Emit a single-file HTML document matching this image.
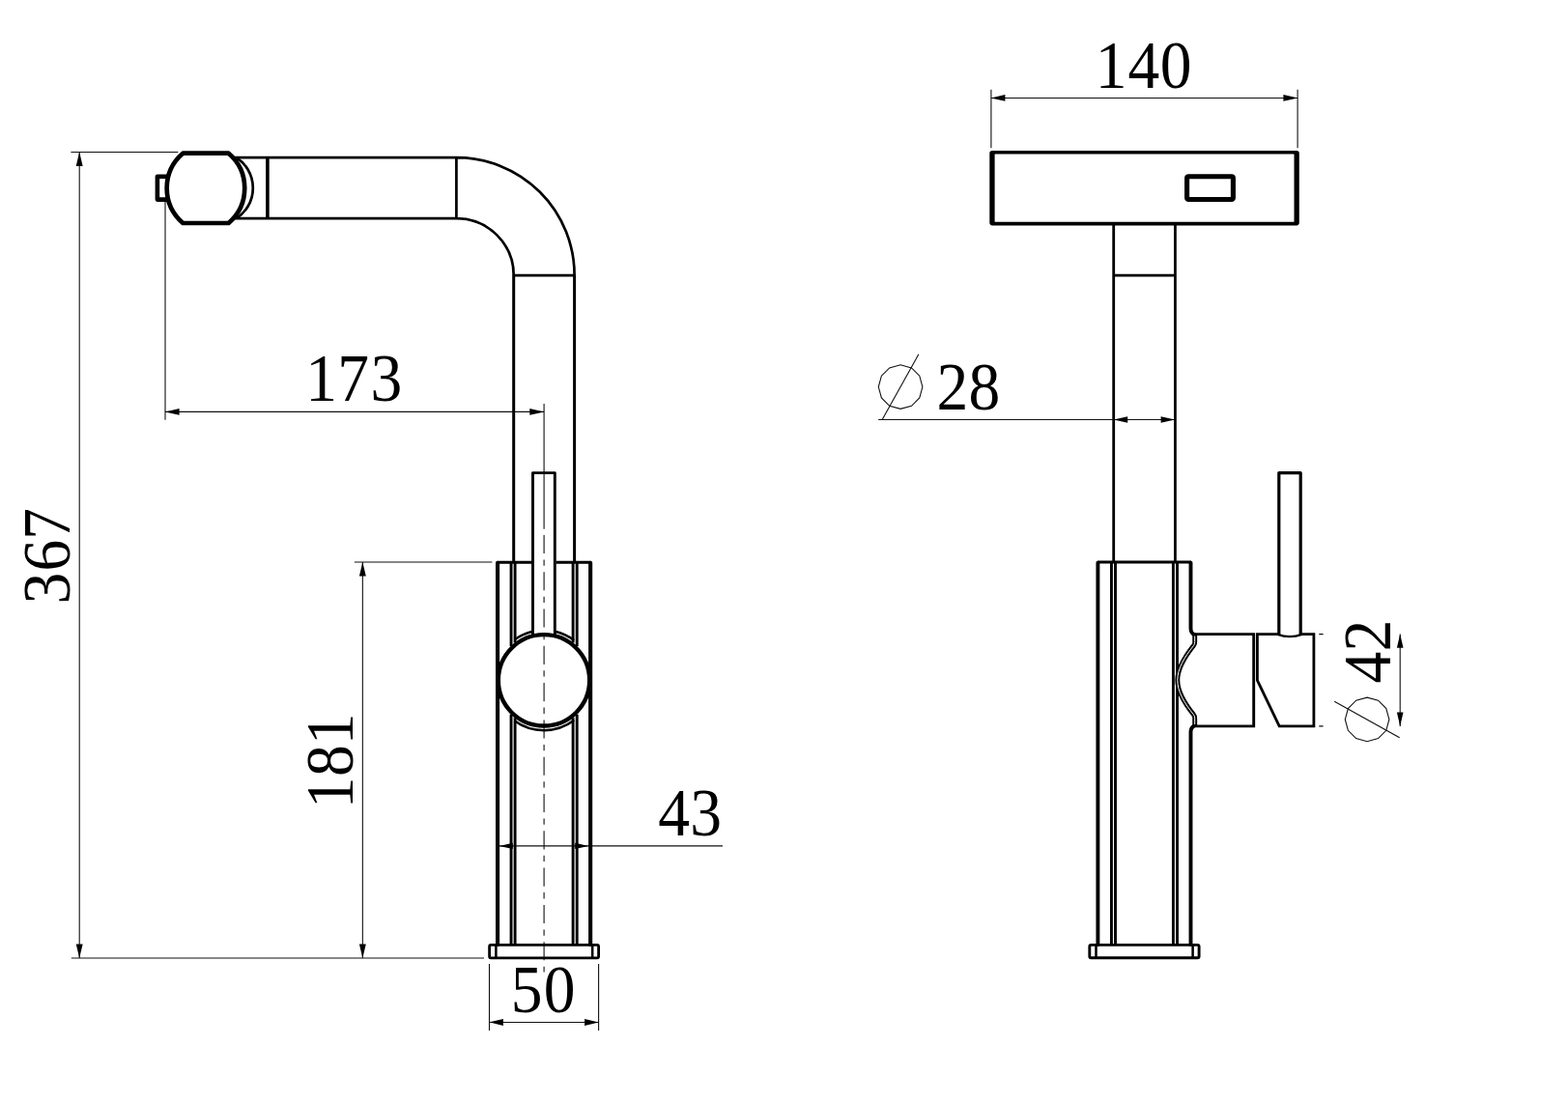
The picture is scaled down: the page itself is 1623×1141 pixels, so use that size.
<!DOCTYPE html>
<html lang="en">
<head>
<meta charset="utf-8">
<title>Faucet dimension drawing</title>
<style>
html,body{margin:0;padding:0;background:#fff;overflow:hidden}
svg{display:block}
.t{font-family:"Liberation Serif","DejaVu Serif",serif;font-size:69px;fill:#000}
.k{stroke:#000;fill:none;stroke-linecap:butt;stroke-linejoin:miter}
.rj{stroke-linejoin:round}
.rc{stroke-linecap:round}
.w4{stroke-width:4}
.w3{stroke-width:3}
.w2{stroke-width:2.7}
.w1{stroke-width:1.6}
.d{stroke:#111;stroke-width:1.1;fill:none}
.a{fill:#000;stroke:none}
</style>
</head>
<body>
<svg width="1623" height="1141" viewBox="0 0 1623 1141">
<rect x="0" y="0" width="1623" height="1141" fill="#fff"/>

<!-- ================= LEFT VIEW : dimensions ================= -->
<g id="left-dims">
  <!-- 367 -->
  <path class="d" d="M73.4,157.5H184.3 M82.2,157.5V992 M73.8,992H501"/>
  <path class="a" d="M82.2,157.3l-3.45,14.6h6.9z M82.2,992.1l-3.45,-14.6h6.9z"/>
  <text class="t" transform="translate(71.80,608.85) rotate(-90) scale(0.95,1)" x="-17.55 18.30 52.84" y="0">367</text>
  <!-- 181 -->
  <path class="d" d="M366.8,582H509.4 M375.35,582V992"/>
  <path class="a" d="M375.35,581.9l-3.45,14.6h6.9z M375.35,992.1l-3.45,-14.6h6.9z"/>
  <text class="t" transform="translate(365.00,820.00) rotate(-90) scale(0.95,1)" x="-18.21 16.75 51.37" y="0">181</text>
  <!-- 173 -->
  <path class="d" d="M171,208.5V434.8 M171,426.4H563 M563.1,417.9V547.7"/>
  <path class="a" d="M170.9,426.4l14.7,-3.3v6.6z M563.2,426.4l-14.9,-3.3v6.6z"/>
  <text class="t" transform="translate(333.50,414.90) scale(0.95,1)" x="-18.21 16.47 52.60" y="0">173</text>
  <!-- 43 -->
  <path class="d" d="M516,875.9H748"/>
  <path class="a" d="M516.8,875.9l14,-3.2v6.4z M609.2,875.9l-14,-3.2v6.4z"/>
  <text class="t" transform="translate(697.80,865.00) scale(0.95,1)" x="-17.38 17.45" y="0">43</text>
  <!-- 50 -->
  <path class="d" d="M506.5,998V1066.9 M619.6,998V1066.9 M506.5,1058.45H619.6"/>
  <path class="a" d="M506.4,1058.45l14.5,-3.45v6.9z M619.7,1058.45l-14.6,-3.45v6.9z"/>
  <text class="t" transform="translate(545.70,1047.50) scale(0.95,1)" x="-17.91 17.91" y="0">50</text>
  <!-- centre line -->
  <path class="d" d="M563.1,553.9V1006.5" stroke-dasharray="19.1 6.4 6.3 6.5"/>
</g>

<!-- ================= LEFT VIEW : faucet ================= -->
<g id="left-faucet">
  <!-- spray head -->
  <path class="k rj" stroke-width="4.6" d="M174,182.7H162.9V206.6H174"/>
  <path class="k" stroke-width="2.7" d="M244.5,163.1A37.4,37.4 0 0 1 244.5,226.2"/>
  <path class="k rj" stroke-width="4.7" fill="#fff" d="M189.3,158.7H236.6A47.6,47.6 0 0 1 236.6,231H189.3A47.6,47.6 0 0 1 189.3,158.7Z"/>
  <!-- spout pipe -->
  <path class="k w2" d="M243,163.1H472.4A122.2,121.8 0 0 1 594.6,284.9 M243,226.2H472.4A59.3,58.7 0 0 1 531.7,284.9 M472.4,163.1V226.2 M531.7,285.1H594.6"/>
  <path class="k" stroke-width="3" d="M594.6,284.5V582 M531.7,284.5V582"/>
  <path class="k" stroke-width="3.6" d="M276.9,163.1V226.2"/>
  <!-- body -->
  <path class="k rc" stroke-width="4.1" d="M515.05,978V582.8 M611.15,978V582.8"/>
  <path class="k" stroke-width="2.9" d="M514.6,582.2H550.5 M575.5,582.2H611.6"/>
  <path class="k" stroke-width="2.9" d="M529.05,582V669 M533.1,582V665.5 M593.1,582V665.5 M597.2,582V669 M529.05,739.7V978 M533.1,743.2V978 M593.1,743.2V978 M597.2,739.7V978"/>
  <!-- lever -->
  <path class="k rj" stroke-width="2.9" d="M551.5,658V489.6H574.3V658"/>
  <!-- ball -->
  <path class="k" stroke-width="2.5" d="M532.5,662.4A51.9,51.9 0 0 1 551.5,653.75 M574.3,653.7A51.9,51.9 0 0 1 594.2,662.9 M532.5,746.3A51.9,51.9 0 0 0 594.2,745.8"/>
  <circle class="k" stroke-width="4.4" cx="563" cy="704.35" r="47.2"/>
  <!-- base plate -->
  <rect class="k" stroke-width="2.8" x="506.6" y="978.4" width="113" height="13.45" rx="1.5"/>
  <path class="k" stroke-width="2.5" d="M513.4,978.4V991.8 M613.2,978.4V991.8"/>
</g>

<!-- ================= RIGHT VIEW : dimensions ================= -->
<g id="right-dims">
  <!-- 140 -->
  <path class="d" d="M1025.9,92.8V153.2 M1343.1,92.8V153.2 M1025.9,101.45H1343.1"/>
  <path class="a" d="M1025.6,101.45l14.8,-3.35v6.7z M1343.4,101.45l-15,-3.35v6.7z"/>
  <text class="t" transform="translate(1150.95,90.80) scale(0.95,1)" x="-18.21 17.35 52.43" y="0">140</text>
  <!-- dia 28 -->
  <path class="d" d="M909.2,434.5H1216.4"/>
  <path class="a" d="M1152.7,434.5l14.5,-3.3v6.6z M1216.2,434.5l-14.6,-3.3v6.6z"/>
  <polygon class="d" points="954.9,400.6 951.8,389.2 943.5,380.9 932.1,377.8 920.7,380.9 912.4,389.2 909.3,400.6 912.4,412.0 920.7,420.3 932.1,423.4 943.5,420.3 951.8,412.0"/>
  <path class="d" d="M913.3,434.3L950.9,366.8"/>
  <text class="t" transform="translate(985.45,423.60) scale(0.95,1)" x="-16.86 17.96" y="0">28</text>
  <!-- dia 42 -->
  <path class="d" d="M1365.3,656.6H1369.6 M1365.3,751.9H1369.6 M1449.2,656.6V751.9"/>
  <path class="a" d="M1449.2,656.4l-3.3,14.4h6.6z M1449.2,751.9l-3.3,-14.4h6.6z"/>
  <polygon class="d" points="1437.9,744.9 1434.8,733.5 1426.5,725.2 1415.1,722.1 1403.7,725.2 1395.4,733.5 1392.3,744.9 1395.4,756.3 1403.7,764.6 1415.1,767.7 1426.5,764.6 1434.8,756.3"/>
  <path class="d" d="M1381.2,726.3L1448.7,763.8"/>
  <text class="t" transform="translate(1438.60,690.90) rotate(-90) scale(0.95,1)" x="-17.38 17.24" y="0">42</text>
</g>

<!-- ================= RIGHT VIEW : faucet ================= -->
<g id="right-faucet">
  <rect x="1024.3" y="156" width="320.5" height="77.4" rx="2.8" fill="#000"/>
  <rect x="1029.6" y="159.6" width="309.9" height="70.2" rx="0.6" fill="#fff"/>
  <rect class="k" stroke-width="5.1" x="1228.6" y="182.7" width="47.8" height="23.8" rx="1.6"/>
  <path class="k" stroke-width="2.8" d="M1152.7,232V582 M1216.4,232V582 M1152.7,285.1H1216.4"/>
  <!-- body -->
  <path class="k rc" stroke-width="3.9" d="M1136.4,978V582.6 M1232.5,582.6V651Q1232.7,655.5 1236.7,657.6 M1236.7,750.9Q1232.7,753 1232.5,757.5V978"/>
  <path class="k" stroke-width="2.9" d="M1136,582.05H1233"/>
  <path class="k" stroke-width="2.9" d="M1150.45,582V978 M1154.5,582V978 M1214.4,582V978 M1218.5,582V978"/>
  <!-- hub -->
  <path class="k" stroke-width="2.9" d="M1236,656.6H1297.7V751.9H1236"/>
  <path class="k" stroke-width="4.9" d="M1236.7,656V664.5Q1237,666.8 1235.4,668.6C1226,680.5 1218.8,692 1218.8,704.2C1218.8,716.4 1226,728 1235.4,739.8Q1237,741.6 1236.7,744V752.5"/>
  <path stroke="#fff" stroke-width="1" fill="none" d="M1236.7,658.5V664.5Q1237,666.8 1235.4,668.6C1226,680.5 1218.8,692 1218.8,704.2C1218.8,716.4 1226,728 1235.4,739.8Q1237,741.6 1236.7,744V750"/>
  <!-- handle -->
  <path class="k" stroke-width="2.8" d="M1323.6,656.6H1301.4V704.4L1324.2,751.9H1359.9V656.6H1346.4"/>
  <path class="k rj" stroke-width="3.2" d="M1323.8,658V489.7H1346.2V658"/>
  <path class="k" stroke-width="2.4" d="M1322.4,656.8Q1335,661.5 1347.6,656.8"/>
  <!-- base plate -->
  <rect class="k" stroke-width="2.9" x="1127.8" y="978.4" width="113.3" height="13.4" rx="1.5"/>
  <path class="k" stroke-width="2.5" d="M1134.5,978.4V991.8 M1234.6,978.4V991.8"/>
</g>
</svg>
</body>
</html>
